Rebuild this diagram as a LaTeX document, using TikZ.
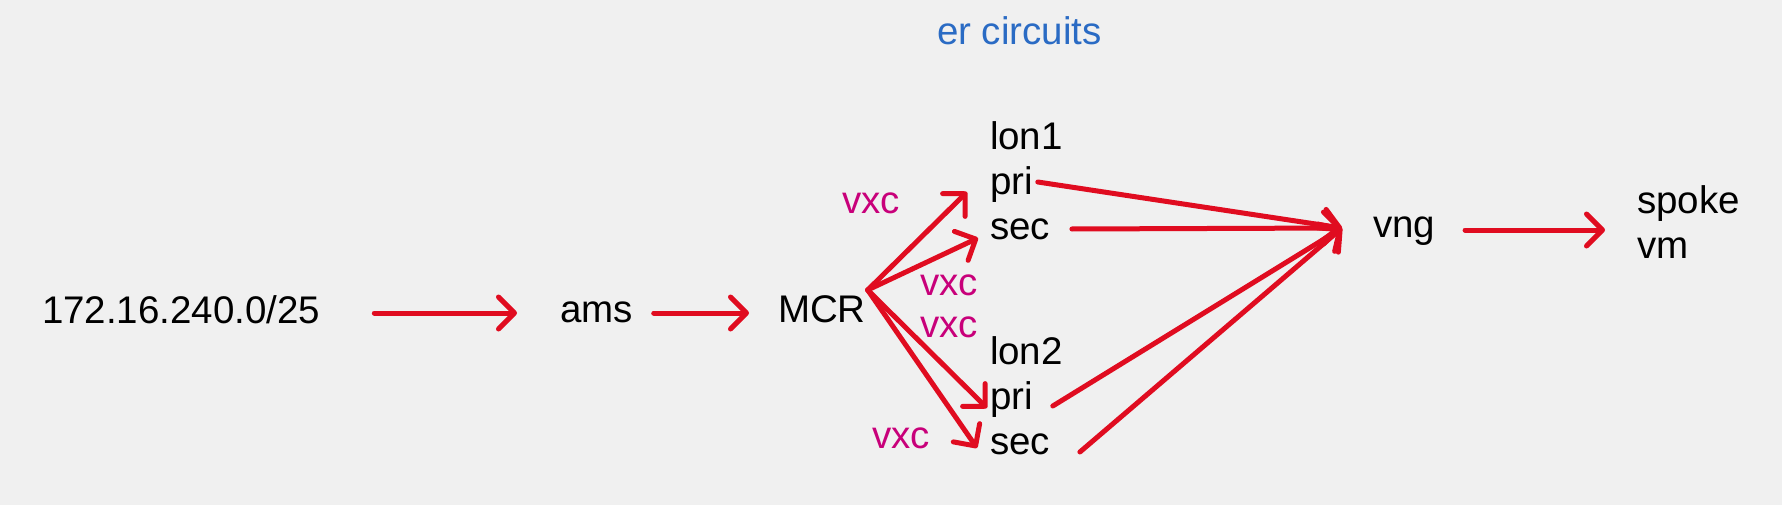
\documentclass[tikz,border=0pt]{standalone}
\usepackage{fontspec}
\setmainfont{Liberation Sans}
\usetikzlibrary{arrows.meta}
\definecolor{bgc}{HTML}{F0F0F0}
\definecolor{redc}{HTML}{E00C20}
\definecolor{magc}{HTML}{C8007A}
\definecolor{bluec}{HTML}{2A6BC4}
\begin{document}
\begin{tikzpicture}[x=1pt,y=-1pt,
  txt/.style={anchor=base west,inner sep=0pt,outer sep=0pt,font=\fontsize{38.5}{45}\selectfont,text=black},
  lbl/.style={txt,text=magc},
  ttl/.style={txt,text=bluec},
  arr/.style={draw=redc,line width=5pt,line cap=round,line join=round,-{Straight Barb[length=16pt,width=32pt,round]}}]
\fill[bgc] (0,0) rectangle (1782,505);
\useasboundingbox (0,0) rectangle (1782,505);
\node[ttl] (title) at (937,45) {er circuits};
\node[txt] (ip) at (42,323) {172.16.240.0/25};
\node[txt] (ams) at (560,322) {ams};
\node[txt] (mcr) at (778,322) {MCR};
\node[txt] (lon1) at (990,150) {lon1};
\node[txt] (pri1) at (990,195) {pri};
\node[txt] (sec1) at (990,240) {sec};
\node[txt] (lon2) at (990,364) {lon2};
\node[txt] (pri2) at (990,409) {pri};
\node[txt] (sec2) at (990,454) {sec};
\node[txt] (vng) at (1373,237) {vng};
\node[txt] (spoke) at (1637,213) {spoke};
\node[txt] (vm) at (1637,258) {vm};
\node[lbl] (vxca) at (842,213) {vxc};
\node[lbl] (vxcb) at (920,295) {vxc};
\node[lbl] (vxcc) at (920,337) {vxc};
\node[lbl] (vxcd) at (872,448) {vxc};
\coordinate (fan) at ([shift={(2,-32)}]mcr.base east);
\coordinate (hub) at ([shift={(-31,-9)}]vng.base west);
\draw[arr] ([shift={(54,-10)}]ip.base east) -- ([shift={(-43,-9)}]ams.base west);
\draw[arr] ([shift={(21,-9)}]ams.base east) -- ([shift={(-29,-9)}]mcr.base west);
\draw[arr] (fan) -- ([shift={(-23,-3)}]pri1.base west);
\draw[arr] (fan) -- ([shift={(-12,-2)}]sec1.base west);
\draw[arr] (fan) -- ([shift={(-3,-1)}]pri2.base west);
\draw[arr] (fan) -- ([shift={(-13,-6)}]sec2.base west);
\draw[arr] ([shift={(5,-13)}]pri1.base east) -- (hub);
\draw[arr] ([shift={(22,-11)}]sec1.base east) -- (hub);
\draw[arr] ([shift={(20,-3)}]pri2.base east) -- (hub);
\draw[arr] ([shift={(30,-2)}]sec2.base east) -- (hub);
\draw[arr] ([shift={(30,-7)}]vng.base east) -- ([shift={(-32,17)}]spoke.base west);
\end{tikzpicture}
\end{document}
